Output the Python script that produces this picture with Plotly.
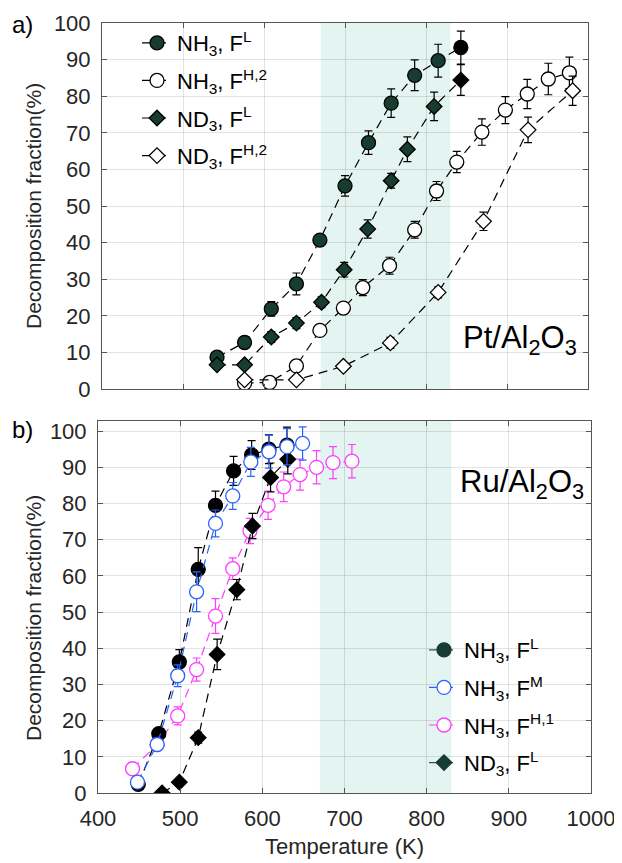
import plotly.graph_objects as go

# ---------------- data: panel a (Pt/Al2O3) ----------------
a_nh3_fl_T = [542, 576, 609, 640, 669, 700, 729, 757, 786, 815, 843]
a_nh3_fl_Y = [8.7, 12.7, 21.9, 28.7, 40.7, 55.5, 67.3, 78.1, 85.7, 89.7, 93.3]
a_nh3_fl_E = [1.5, 1.5, 2.0, 3.0, 1.5, 2.8, 3.2, 3.9, 4.2, 4.5, 4.5]

a_nh3_h2_T = [576, 607, 640, 669, 698, 722, 755, 786, 813, 838, 869, 898, 925, 951, 977]
a_nh3_h2_Y = [1.6, 1.8, 6.3, 16.0, 22.1, 27.7, 33.7, 43.5, 54.1, 62.0, 70.2, 76.2, 80.6, 84.7, 86.4]
a_nh3_h2_E = [1.0, 1.0, 1.5, 1.5, 1.5, 2.2, 2.3, 2.3, 2.6, 2.9, 3.6, 3.7, 4.0, 4.3, 4.3]

a_nd3_fl_T = [542, 576, 609, 640, 671, 699, 728, 757, 777, 810, 843]
a_nd3_fl_Y = [6.6, 6.6, 14.2, 18.0, 23.7, 32.6, 43.7, 56.9, 65.5, 77.2, 84.4]
a_nd3_fl_E = [1.0, 1.0, 1.5, 1.5, 1.5, 2.0, 2.5, 2.0, 3.4, 3.9, 4.2]

a_nd3_h2_T = [576, 640, 698, 756, 815, 871, 926, 981]
a_nd3_h2_Y = [2.5, 2.5, 6.2, 12.6, 26.4, 45.8, 70.8, 81.5]
a_nd3_h2_E = [1.0, 1.0, 1.0, 1.5, 1.5, 2.5, 3.5, 4.0]

# ---------------- data: panel b (Ru/Al2O3) ----------------
b_nh3_fl_T = [449, 474, 499, 522, 543, 565, 587, 608, 630]
b_nh3_fl_Y = [2.4, 16.4, 36.2, 61.8, 79.5, 89.0, 93.4, 95.0, 96.1]
b_nh3_fl_E = [1.0, 1.5, 3.4, 6.0, 3.9, 4.0, 4.0, 4.0, 5.0]

b_nh3_fm_T = [448, 472, 497, 520, 543, 564, 586, 608, 630, 649]
b_nh3_fm_Y = [3.0, 13.4, 32.4, 55.6, 74.5, 82.1, 91.5, 94.3, 95.7, 96.6]
b_nh3_fm_E = [1.0, 1.5, 3.0, 5.5, 3.7, 3.7, 4.0, 4.5, 5.0, 4.6]

b_nh3_h1_T = [442, 472, 497, 520, 543, 564, 585, 607, 626, 646, 666, 686, 709]
b_nh3_h1_Y = [6.7, 13.4, 21.3, 34.1, 48.9, 62.0, 72.4, 79.5, 84.6, 88.0, 90.0, 91.3, 91.7]
b_nh3_h1_E = [1.0, 1.5, 2.5, 3.2, 4.8, 3.0, 3.5, 3.9, 4.1, 4.3, 4.6, 4.4, 4.6]

b_nd3_fl_T = [478, 499, 522, 545, 569, 588, 610, 631]
b_nd3_fl_Y = [0.0, 3.0, 15.3, 38.3, 56.2, 73.8, 87.2, 92.2]
b_nd3_fl_E = [0.5, 1.0, 1.5, 4.2, 2.8, 3.5, 4.0, 4.0]

x_ticks = [400, 500, 600, 700, 800, 900, 1000]
y_ticks = [0, 10, 20, 30, 40, 50, 60, 70, 80, 90, 100]
band = [670, 830]

# ---------------- styles ----------------
OFF = 8                      # page margin of the browser body
W, H = 622 - OFF, 863 - OFF  # figure size


def PX(px):
    return (px - OFF) / W


def PY(py):
    return 1 - (py - OFF) / H


FONT = "Liberation Sans, Arial, sans-serif"
GREEN = "#173c31"
LEGLINE = "#3d5249"
BLUE = "#2a62ff"
MAGENTA = "#ff3cff"
DASH = "9px,6px"
TXT = "#262626"

fig = go.Figure()


def add(T, Y, E, name, symbol, fill, edge, linecol, xa, ya, legend,
        showlegend=True, size=14, rank=None):
    fig.add_trace(go.Scatter(
        x=T, y=Y, mode="lines+markers", name=name,
        xaxis=xa, yaxis=ya, legend=legend, showlegend=showlegend,
        legendgroup=name + legend, legendrank=rank if rank else 1000,
        line=dict(color=linecol, width=1.2, dash=DASH),
        marker=dict(symbol=symbol, size=size, color=fill, line=dict(color=edge, width=1.3)),
        error_y=dict(type="data", array=E, visible=True, color=edge, thickness=1.2, width=4),
    ))


def legend_only(name, symbol, fill, edge, linecol, legend, rank, size=14):
    fig.add_trace(go.Scatter(
        x=[None], y=[None], mode="lines+markers", name=name,
        xaxis="x2", yaxis="y2", legend=legend, showlegend=True,
        legendgroup=name + legend, legendrank=rank,
        line=dict(color=linecol, width=1.2, dash=DASH),
        marker=dict(symbol=symbol, size=size, color=fill, line=dict(color=edge, width=1.3)),
    ))


fills_c = [GREEN] * (len(a_nh3_fl_T) - 1) + ["black"]
fills_d = [GREEN] * (len(a_nd3_fl_T) - 1) + ["black"]

add(a_nh3_fl_T, a_nh3_fl_Y, a_nh3_fl_E, "NH<sub>3</sub>, F<sup>L</sup>", "circle", fills_c, "black", "black", "x", "y", "legend", rank=1)
add(a_nh3_h2_T, a_nh3_h2_Y, a_nh3_h2_E, "NH<sub>3</sub>, F<sup>H,2</sup>", "circle", "white", "black", "black", "x", "y", "legend", rank=2)
add(a_nd3_fl_T, a_nd3_fl_Y, a_nd3_fl_E, "ND<sub>3</sub>, F<sup>L</sup>", "diamond", fills_d, "black", "black", "x", "y", "legend", size=12, rank=3)
add(a_nd3_h2_T, a_nd3_h2_Y, a_nd3_h2_E, "ND<sub>3</sub>, F<sup>H,2</sup>", "diamond", "white", "black", "black", "x", "y", "legend", size=12, rank=4)

add(b_nh3_h1_T, b_nh3_h1_Y, b_nh3_h1_E, "NH<sub>3</sub>, F<sup>H,1</sup>", "circle", "white", MAGENTA, MAGENTA, "x2", "y2", "legend2", showlegend=False)
add(b_nd3_fl_T, b_nd3_fl_Y, b_nd3_fl_E, "ND<sub>3</sub>, F<sup>L</sup>", "diamond", "black", "black", "black", "x2", "y2", "legend2", showlegend=False, size=12)
add(b_nh3_fl_T, b_nh3_fl_Y, b_nh3_fl_E, "NH<sub>3</sub>, F<sup>L</sup>", "circle", "black", "black", "black", "x2", "y2", "legend2", showlegend=False)
add(b_nh3_fm_T, b_nh3_fm_Y, b_nh3_fm_E, "NH<sub>3</sub>, F<sup>M</sup>", "circle", "white", BLUE, BLUE, "x2", "y2", "legend2", showlegend=False)

legend_only("NH<sub>3</sub>, F<sup>L</sup> ", "circle", GREEN, GREEN, LEGLINE, "legend2", 1)
legend_only("NH<sub>3</sub>, F<sup>M</sup> ", "circle", "white", BLUE, BLUE, "legend2", 2)
legend_only("NH<sub>3</sub>, F<sup>H,1</sup> ", "circle", "white", MAGENTA, MAGENTA, "legend2", 3)
legend_only("ND<sub>3</sub>, F<sup>L</sup> ", "diamond", GREEN, GREEN, LEGLINE, "legend2", 4, size=12)

axis_common = dict(
    range=[400, 1000], tickvals=x_ticks, showgrid=True, gridcolor="rgba(0,0,0,0.11)",
    showline=True, linecolor="#555555", linewidth=1, mirror="ticks",
    ticks="inside", ticklen=5, tickcolor="#555555", zeroline=False, automargin=False,
    tickfont=dict(family=FONT, size=22, color=TXT),
)
yaxis_common = dict(
    tickvals=y_ticks, showgrid=True, gridcolor="rgba(0,0,0,0.11)",
    showline=True, linecolor="#555555", linewidth=1, mirror="ticks",
    ticks="inside", ticklen=5, tickcolor="#555555", zeroline=False, automargin=False,
    tickfont=dict(family=FONT, size=22, color=TXT), ticklabelstandoff=6,
)

fig.update_layout(
    width=W, height=H, margin=dict(l=0, r=0, t=0, b=0, autoexpand=False),
    paper_bgcolor="white", plot_bgcolor="white",
    font=dict(family=FONT, size=22, color=TXT),
    xaxis=dict(axis_common, domain=[PX(102), PX(588)], anchor="y", showticklabels=False),
    yaxis=dict(yaxis_common, domain=[PY(389), PY(23)], range=[0, 100], anchor="x"),
    xaxis2=dict(axis_common, domain=[PX(98), PX(591)], anchor="y2", ticklabelstandoff=6,
                title=dict(text="Temperature (K)", font=dict(family=FONT, size=22, color=TXT), standoff=8)),
    yaxis2=dict(yaxis_common, domain=[PY(793), PY(421)], range=[0, 102.8], anchor="x2"),
    legend=dict(x=PX(137), y=PY(22), xanchor="left", yanchor="top", bgcolor="rgba(0,0,0,0)",
                font=dict(family=FONT, size=22, color="black"), tracegroupgap=6, traceorder="grouped"),
    legend2=dict(x=PX(424), y=PY(629), xanchor="left", yanchor="top", bgcolor="rgba(0,0,0,0)",
                 font=dict(family=FONT, size=22, color="black"), tracegroupgap=6, traceorder="grouped"),
    showlegend=True,
)

for xa, ya in [("x", "y"), ("x2", "y2")]:
    fig.add_shape(type="rect", xref=xa, yref=ya + " domain", x0=band[0], x1=band[1], y0=0, y1=1,
                  fillcolor="#e4f4f0", line=dict(width=0), layer="below")

ann = [
    dict(text="a)", x=PX(22), y=PY(25), font=dict(size=24)),
    dict(text="b)", x=PX(22), y=PY(429), font=dict(size=24)),
    dict(text="Decomposition fraction(%)", x=PX(33), y=PY(206), textangle=-90, font=dict(size=21, color=TXT)),
    dict(text="Decomposition fraction(%)", x=PX(33), y=PY(618), textangle=-90, font=dict(size=21, color=TXT)),
    dict(text="Pt/Al<sub>2</sub>O<sub>3</sub>", x=PX(579), y=PY(340), xanchor="right", font=dict(size=31)),
    dict(text="Ru/Al<sub>2</sub>O<sub>3</sub>", x=PX(586), y=PY(484), xanchor="right", font=dict(size=31)),
]
for a in ann:
    a.setdefault("xanchor", "center")
    f = dict(family=FONT, color="black")
    f.update(a.pop("font"))
    fig.add_annotation(xref="paper", yref="paper", yanchor="middle", showarrow=False, font=f, **a)

fig.write_html("out.html")
